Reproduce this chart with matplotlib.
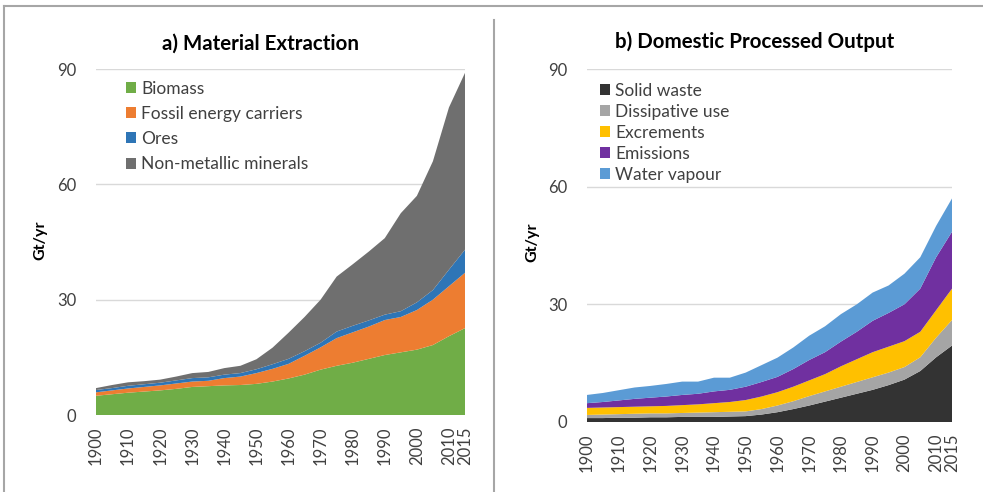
import matplotlib.pyplot as plt
from matplotlib.lines import Line2D

# Values (Gt/yr), 5-year steps
years = [1900, 1905, 1910, 1915, 1920, 1925, 1930, 1935, 1940, 1945, 1950, 1955,
         1960, 1965, 1970, 1975, 1980, 1985, 1990, 1995, 2000, 2005, 2010, 2015]
tick_years = [1900, 1910, 1920, 1930, 1940, 1950, 1960, 1970, 1980, 1990, 2000, 2010, 2015]

# a) Material extraction
biomass = [5.0, 5.4, 5.8, 6.1, 6.4, 6.8, 7.3, 7.5, 7.7, 7.8, 8.1, 8.7,
           9.5, 10.5, 11.8, 12.8, 13.6, 14.6, 15.6, 16.3, 17.0, 18.2, 20.5, 22.6]
fossil = [0.9, 1.0, 1.1, 1.2, 1.3, 1.4, 1.4, 1.4, 1.9, 2.2, 2.8, 3.3,
          3.8, 4.9, 5.8, 7.2, 7.9, 8.4, 9.1, 9.2, 10.3, 11.8, 13.0, 14.4]
ores = [0.6, 0.6, 0.7, 0.7, 0.7, 0.8, 0.9, 0.9, 0.9, 0.9, 1.0, 1.2,
        1.3, 1.2, 1.2, 1.7, 1.7, 1.6, 1.4, 1.5, 2.0, 2.5, 4.3, 6.0]
minerals = [0.5, 0.8, 0.9, 0.8, 0.8, 1.0, 1.3, 1.4, 1.7, 1.9, 2.6, 4.3,
            6.8, 8.9, 11.2, 14.3, 16.0, 17.9, 19.9, 25.5, 27.7, 33.5, 42.2, 46.0]
extraction_labels = ["Biomass", "Fossil energy carriers", "Ores", "Non-metallic minerals"]
extraction_colors = ["#70AD47", "#ED7D31", "#2E75B6", "#6F6F6F"]

# b) Domestic processed output
solid_waste = [1.0, 1.0, 1.1, 1.1, 1.2, 1.2, 1.3, 1.3, 1.3, 1.4, 1.5, 1.9,
               2.5, 3.3, 4.2, 5.2, 6.2, 7.2, 8.2, 9.4, 10.8, 13.0, 16.5, 19.5]
dissipative = [0.8, 0.9, 0.9, 1.0, 1.0, 1.0, 1.0, 1.1, 1.2, 1.2, 1.2, 1.4,
               1.7, 2.0, 2.4, 2.6, 2.8, 3.0, 3.2, 3.2, 3.2, 3.5, 5.0, 6.5]
excrements = [1.8, 1.8, 1.8, 1.8, 1.8, 1.9, 2.0, 2.1, 2.3, 2.5, 2.9, 3.2,
              3.4, 3.7, 4.0, 4.4, 5.2, 5.8, 6.4, 6.6, 6.6, 6.5, 7.0, 8.0]
emissions = [1.2, 1.4, 1.7, 2.0, 2.2, 2.4, 2.6, 2.7, 3.0, 3.1, 3.4, 3.7,
             3.9, 4.5, 5.2, 5.6, 6.3, 7.0, 8.0, 8.6, 9.4, 11.0, 13.5, 14.5]
water_vapour = [2.1, 2.3, 2.6, 2.9, 3.0, 3.2, 3.4, 3.1, 3.5, 3.1, 3.6, 4.3,
                4.9, 5.5, 6.2, 6.6, 7.0, 7.0, 7.2, 7.0, 7.8, 8.0, 8.0, 8.5]
output_labels = ["Solid waste", "Dissipative use", "Excrements", "Emissions", "Water vapour"]
output_colors = ["#333333", "#A5A5A5", "#FFC000", "#7030A0", "#5B9BD5"]

plt.rcParams['font.family'] = ['Lato', 'DejaVu Sans']

W, H = 983, 492
fig = plt.figure(figsize=(W / 100, H / 100), dpi=100)


def fx(x):
    return x / W


def fy(y):
    return 1 - y / H


def style_axes(ax):
    ax.set_xlim(1900, 2015)
    ax.set_ylim(0, 90)
    ax.set_yticks([0, 30, 60, 90])
    ax.set_xticks(tick_years)
    ax.set_xticklabels([str(y) for y in tick_years], rotation=90)
    for s in ax.spines.values():
        s.set_visible(False)
    ax.grid(axis='y', color='#D9D9D9', linewidth=1)
    ax.set_axisbelow(True)
    ax.tick_params(axis='y', length=0, pad=14, labelsize=12, labelcolor='#404040')
    ax.tick_params(axis='x', length=0, pad=8, labelsize=12, labelcolor='#404040')


legend_kw = dict(loc='upper left', bbox_transform=fig.transFigure, frameon=False,
                 fontsize=12.5, handlelength=0.6, handleheight=0.6,
                 handletextpad=0.3, borderpad=0, labelcolor='#404040')

# left panel
ax1 = fig.add_axes([fx(96), fy(415), (465 - 96) / W, (415 - 69) / H])
ax1.stackplot(years, biomass, fossil, ores, minerals,
              colors=extraction_colors, labels=extraction_labels, linewidth=0)
style_axes(ax1)
ax1.legend(bbox_to_anchor=(fx(117), fy(72)), labelspacing=0.53, **legend_kw)
fig.text(fx(260), fy(44), "a) Material Extraction", ha='center', va='center',
         fontsize=14.8, fontweight='bold')
fig.text(fx(40), fy(240), "Gt/yr", rotation=90, ha='center', va='center',
         fontsize=11.5, fontweight='bold')

# right panel
ax2 = fig.add_axes([fx(587), fy(422), (952 - 587) / W, (422 - 69) / H])
ax2.stackplot(years, solid_waste, dissipative, excrements, emissions, water_vapour,
              colors=output_colors, labels=output_labels, linewidth=0)
style_axes(ax2)
ax2.legend(bbox_to_anchor=(fx(591), fy(74)), labelspacing=0.29, **legend_kw)
fig.text(fx(755), fy(42), "b) Domestic Processed Output", ha='center', va='center',
         fontsize=14.8, fontweight='bold')
fig.text(fx(532), fy(242), "Gt/yr", rotation=90, ha='center', va='center',
         fontsize=11.5, fontweight='bold')

# frame lines around the figure and between the panels
frame_kw = dict(color='#A6A6A6', linewidth=1.5, transform=fig.transFigure)
fig.add_artist(Line2D([fx(4), fx(983)], [fy(6), fy(6)], **frame_kw))
fig.add_artist(Line2D([fx(4), fx(4)], [fy(6), fy(492)], **frame_kw))
fig.add_artist(Line2D([fx(494), fx(494)], [fy(20), fy(492)], **frame_kw))

fig.savefig("out.png", dpi=100)
